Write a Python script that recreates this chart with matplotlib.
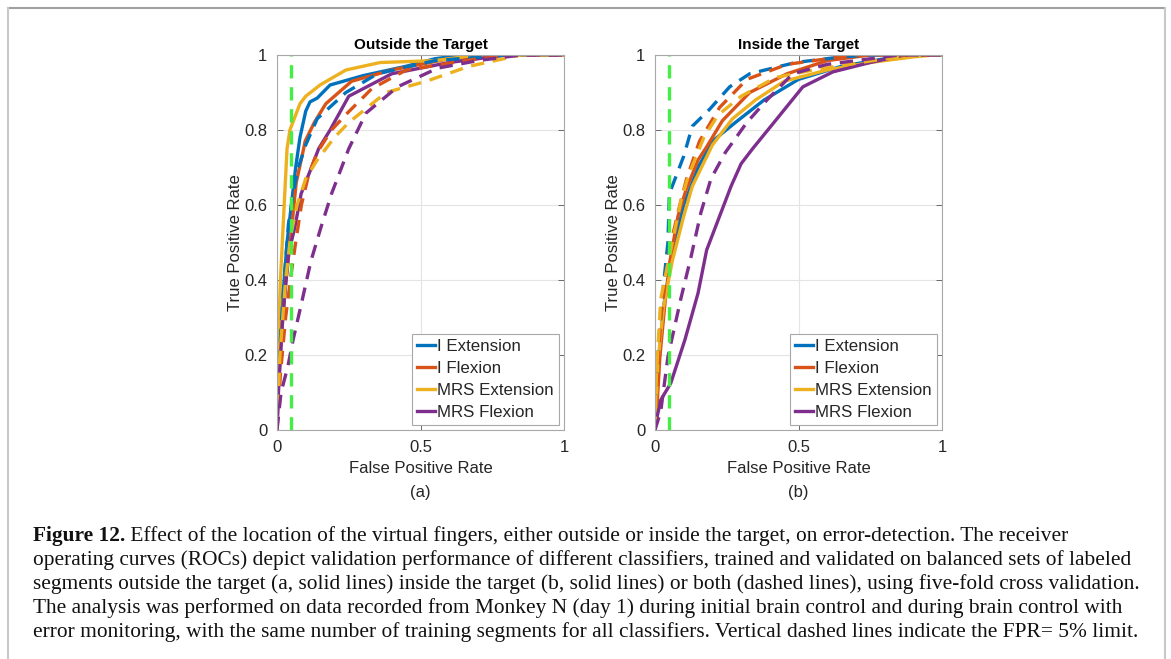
import matplotlib.pyplot as plt
from matplotlib.lines import Line2D

plt.rcParams['font.family'] = ['Liberation Sans', 'DejaVu Sans']

# ROC curves, outside the target (solid = trained outside, dashed = trained on both)
out_i_ext_fpr = [0, 0.005, 0.02, 0.035, 0.05, 0.065, 0.08, 0.1, 0.115, 0.14, 0.185, 0.3, 0.45, 0.55, 0.65, 1]
out_i_ext_tpr = [0, 0.15, 0.35, 0.5, 0.6, 0.7, 0.78, 0.85, 0.875, 0.885, 0.92, 0.945, 0.97, 0.99, 1, 1]
out_i_flx_fpr = [0, 0.005, 0.015, 0.03, 0.05, 0.067, 0.09, 0.098, 0.13, 0.17, 0.26, 0.4, 0.6, 0.8, 1]
out_i_flx_tpr = [0, 0.12, 0.25, 0.39, 0.53, 0.66, 0.74, 0.77, 0.82, 0.87, 0.93, 0.96, 0.99, 1, 1]
out_mrs_ext_fpr = [0, 0.003, 0.012, 0.025, 0.035, 0.045, 0.06, 0.08, 0.1, 0.15, 0.24, 0.36, 0.55, 0.7, 1]
out_mrs_ext_tpr = [0, 0.2, 0.4, 0.6, 0.75, 0.8, 0.83, 0.87, 0.89, 0.92, 0.96, 0.98, 0.985, 1, 1]
out_mrs_flx_fpr = [0, 0.005, 0.02, 0.04, 0.062, 0.084, 0.115, 0.145, 0.185, 0.25, 0.4, 0.6, 0.8, 1]
out_mrs_flx_tpr = [0, 0.1, 0.3, 0.47, 0.54, 0.63, 0.69, 0.75, 0.8, 0.89, 0.95, 0.98, 1, 1]

out_i_ext_d_fpr = [0, 0.005, 0.02, 0.04, 0.055, 0.07, 0.1, 0.14, 0.24, 0.35, 0.55, 0.8, 1]
out_i_ext_d_tpr = [0, 0.15, 0.35, 0.55, 0.62, 0.69, 0.76, 0.83, 0.9, 0.95, 0.985, 1, 1]
out_i_flx_d_fpr = [0, 0.012, 0.03, 0.05, 0.065, 0.085, 0.11, 0.14, 0.19, 0.245, 0.33, 0.45, 0.7, 0.85, 1]
out_i_flx_d_tpr = [0, 0.15, 0.3, 0.42, 0.5, 0.6, 0.68, 0.74, 0.8, 0.845, 0.91, 0.96, 0.99, 1, 1]
out_mrs_ext_d_fpr = [0, 0.01, 0.03, 0.048, 0.07, 0.1, 0.14, 0.2, 0.25, 0.38, 0.52, 0.67, 0.79, 0.85, 1]
out_mrs_ext_d_tpr = [0, 0.2, 0.4, 0.52, 0.6, 0.67, 0.72, 0.78, 0.82, 0.9, 0.93, 0.97, 0.99, 1, 1]
out_mrs_flx_d_fpr = [0, 0.014, 0.038, 0.056, 0.083, 0.118, 0.153, 0.19, 0.25, 0.31, 0.42, 0.56, 0.7, 0.85, 1]
out_mrs_flx_d_tpr = [0, 0.1, 0.17, 0.24, 0.33, 0.45, 0.54, 0.63, 0.75, 0.845, 0.915, 0.965, 0.985, 1, 1]

# ROC curves, inside the target
in_i_ext_fpr = [0, 0.01, 0.03, 0.06, 0.1, 0.15, 0.2, 0.28, 0.38, 0.5, 0.65, 0.8, 0.9, 1]
in_i_ext_tpr = [0, 0.15, 0.33, 0.47, 0.6, 0.7, 0.77, 0.82, 0.88, 0.935, 0.97, 0.99, 1, 1]
in_i_flx_fpr = [0, 0.005, 0.017, 0.035, 0.052, 0.08, 0.108, 0.15, 0.18, 0.235, 0.33, 0.46, 0.6, 0.75, 1]
in_i_flx_tpr = [0, 0.035, 0.195, 0.34, 0.45, 0.57, 0.64, 0.72, 0.755, 0.825, 0.9, 0.95, 0.985, 1, 1]
in_mrs_ext_fpr = [0, 0.01, 0.03, 0.06, 0.1, 0.13, 0.2, 0.27, 0.35, 0.45, 0.6, 0.75, 0.9, 0.97, 1]
in_mrs_ext_tpr = [0, 0.18, 0.33, 0.45, 0.57, 0.65, 0.76, 0.83, 0.88, 0.93, 0.96, 0.98, 0.995, 1, 1]
in_mrs_flx_fpr = [0, 0.003, 0.02, 0.055, 0.104, 0.15, 0.18, 0.21, 0.265, 0.3, 0.34, 0.425, 0.515, 0.62, 0.75, 0.87, 1]
in_mrs_flx_tpr = [0, 0.02, 0.08, 0.125, 0.24, 0.365, 0.48, 0.54, 0.65, 0.71, 0.75, 0.83, 0.915, 0.955, 0.98, 1, 1]

in_i_ext_d_fpr = [0, 0.01, 0.03, 0.045, 0.05, 0.08, 0.1, 0.13, 0.19, 0.26, 0.33, 0.49, 0.65, 0.75, 1]
in_i_ext_d_tpr = [0, 0.21, 0.39, 0.5, 0.63, 0.69, 0.73, 0.81, 0.855, 0.915, 0.95, 0.98, 0.995, 1, 1]
in_i_flx_d_fpr = [0, 0.01, 0.02, 0.05, 0.08, 0.11, 0.155, 0.225, 0.32, 0.46, 0.6, 0.7, 1]
in_i_flx_d_tpr = [0, 0.15, 0.3, 0.48, 0.58, 0.67, 0.77, 0.86, 0.935, 0.975, 0.99, 1, 1]
in_mrs_ext_d_fpr = [0, 0.005, 0.02, 0.06, 0.09, 0.115, 0.17, 0.22, 0.3, 0.42, 0.55, 0.8, 0.95, 1]
in_mrs_ext_d_tpr = [0, 0.15, 0.35, 0.5, 0.61, 0.675, 0.78, 0.84, 0.89, 0.94, 0.96, 0.99, 1, 1]
in_mrs_flx_d_fpr = [0, 0.02, 0.045, 0.09, 0.125, 0.16, 0.195, 0.245, 0.32, 0.39, 0.48, 0.6, 0.75, 0.85, 1]
in_mrs_flx_d_tpr = [0, 0.05, 0.195, 0.35, 0.46, 0.58, 0.67, 0.74, 0.82, 0.88, 0.95, 0.975, 0.99, 1, 1]

labels = ['I Extension', 'I Flexion', 'MRS Extension', 'MRS Flexion']
colors = ['#0072BD', '#D95319', '#EDB120', '#7E2F8E']
fpr_limit = 0.05

panels = [
    ('Outside the Target', '(a)',
     [(out_i_ext_fpr, out_i_ext_tpr), (out_i_flx_fpr, out_i_flx_tpr),
      (out_mrs_ext_fpr, out_mrs_ext_tpr), (out_mrs_flx_fpr, out_mrs_flx_tpr)],
     [(out_i_ext_d_fpr, out_i_ext_d_tpr), (out_i_flx_d_fpr, out_i_flx_d_tpr),
      (out_mrs_ext_d_fpr, out_mrs_ext_d_tpr), (out_mrs_flx_d_fpr, out_mrs_flx_d_tpr)]),
    ('Inside the Target', '(b)',
     [(in_i_ext_fpr, in_i_ext_tpr), (in_i_flx_fpr, in_i_flx_tpr),
      (in_mrs_ext_fpr, in_mrs_ext_tpr), (in_mrs_flx_fpr, in_mrs_flx_tpr)],
     [(in_i_ext_d_fpr, in_i_ext_d_tpr), (in_i_flx_d_fpr, in_i_flx_d_tpr),
      (in_mrs_ext_d_fpr, in_mrs_ext_d_tpr), (in_mrs_flx_d_fpr, in_mrs_flx_d_tpr)]),
]

W, H = 1171, 659
fig = plt.figure(figsize=(W / 100, H / 100), dpi=100)

axes_left = [277, 655]
for (title, tag, solid, dashed), left in zip(panels, axes_left):
    ax = fig.add_axes([left / W, 1 - 430 / H, 287 / W, 375 / H])
    for (x, y), c, lab in zip(solid, colors, labels):
        ax.plot(x, y, color=c, lw=2.4, label=lab)
    for (x, y), c in zip(dashed, colors):
        ax.plot(x, y, color=c, lw=2.4, dashes=(4, 2.6))
    ax.plot([fpr_limit, fpr_limit], [0, 1], color='#44ee44', lw=2.4, dashes=(4, 2.6))

    ax.set_xlim(0, 1)
    ax.set_ylim(0, 1)
    ax.set_xticks([0, 0.5, 1])
    ax.set_xticklabels(['0', '0.5', '1'])
    ax.set_yticks([0, 0.2, 0.4, 0.6, 0.8, 1])
    ax.set_yticklabels(['0', '0.2', '0.4', '0.6', '0.8', '1'])
    ax.tick_params(direction='in', length=4, width=0.6, color='#555555',
                   labelsize=12, labelcolor='#262626', top=True, right=True, pad=7)
    ax.grid(True, color='#e4e4e4', lw=0.8)
    ax.set_axisbelow(True)
    for s in ax.spines.values():
        s.set_color('#a8a8a8')
        s.set_linewidth(0.8)

    ax.set_title(title, fontsize=11, fontweight='bold', color='black', pad=4)
    ax.text(0.5, -0.103, 'False Positive Rate', transform=ax.transAxes,
            ha='center', va='center', fontsize=12, color='#262626')
    ax.text(0.5, -0.168, tag, transform=ax.transAxes,
            ha='center', va='center', fontsize=12, color='#262626')
    ax.text(-0.143, 0.5, 'True Positive Rate', transform=ax.transAxes, rotation=90,
            ha='center', va='center', fontsize=12, color='#262626')

    leg = ax.legend(loc='lower right', bbox_to_anchor=(0.983, 0.013), borderaxespad=0,
                    fontsize=12.2, handlelength=1.1, handletextpad=0.12, labelspacing=0.42,
                    borderpad=0.3, fancybox=False, framealpha=1, edgecolor='#a8a8a8')
    leg.get_frame().set_linewidth(0.8)
    for t in leg.get_texts():
        t.set_color('#262626')

# caption frame
fig.add_artist(Line2D([8 / W, 1165 / W], [1 - 8 / H, 1 - 8 / H], color='#a0a0a0', lw=1.5))
fig.add_artist(Line2D([8 / W, 8 / W], [0, 1 - 8 / H], color='#c8c8c8', lw=1.5))
fig.add_artist(Line2D([1165 / W, 1165 / W], [0, 1 - 8 / H], color='#c8c8c8', lw=1.5))

caption = [
    ' Effect of the location of the virtual fingers, either outside or inside the target, on error-detection. The receiver',
    'operating curves (ROCs) depict validation performance of different classifiers, trained and validated on balanced sets of labeled',
    'segments outside the target (a, solid lines) inside the target (b, solid lines) or both (dashed lines), using five-fold cross validation.',
    'The analysis was performed on data recorded from Monkey N (day 1) during initial brain control and during brain control with',
    'error monitoring, with the same number of training segments for all classifiers. Vertical dashed lines indicate the FPR= 5% limit.',
]
cap_font = dict(family=['Liberation Serif', 'DejaVu Serif'], fontsize=15.4, color='#111111')
baselines = [541, 565, 589, 613, 637]
head = fig.text(33 / W, 1 - baselines[0] / H, 'Figure 12.', fontweight='bold', va='baseline', **cap_font)
plt.annotate(caption[0], xy=(1, 0), xycoords=head, va='bottom', ha='left', **cap_font)
for line, b in zip(caption[1:], baselines[1:]):
    fig.text(33 / W, 1 - b / H, line, va='baseline', **cap_font)

fig.savefig('out.png', dpi=100)
